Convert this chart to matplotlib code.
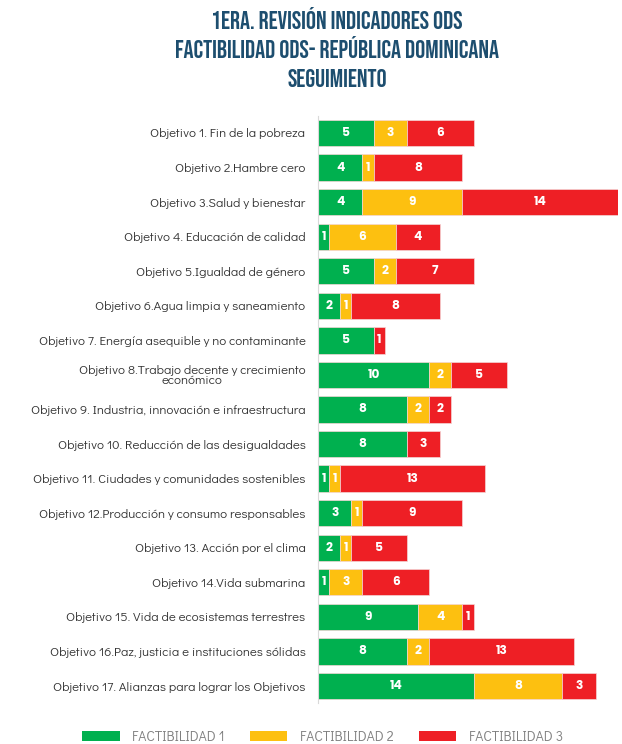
import matplotlib
matplotlib.use("Agg")
import matplotlib.pyplot as plt
from matplotlib.patches import Patch
from matplotlib import font_manager
import numpy as np

objetivos = [
    "Objetivo 1. Fin de la pobreza",
    "Objetivo 2.Hambre cero",
    "Objetivo 3.Salud y bienestar",
    "Objetivo 4. Educación de calidad",
    "Objetivo 5.Igualdad de género",
    "Objetivo 6.Agua limpia y saneamiento",
    "Objetivo 7. Energía asequible y no contaminante",
    "Objetivo 8.Trabajo decente y crecimiento\neconómico",
    "Objetivo 9. Industria, innovación e infraestructura",
    "Objetivo 10. Reducción de las desigualdades",
    "Objetivo 11. Ciudades y comunidades sostenibles",
    "Objetivo 12.Producción y consumo responsables",
    "Objetivo 13. Acción por el clima",
    "Objetivo 14.Vida submarina",
    "Objetivo 15. Vida de ecosistemas terrestres",
    "Objetivo 16.Paz, justicia e instituciones sólidas",
    "Objetivo 17. Alianzas para lograr los Objetivos",
]
factibilidad_1 = [5, 4, 4, 1, 5, 2, 5, 10, 8, 8, 1, 3, 2, 1, 9, 8, 14]
factibilidad_2 = [3, 1, 9, 6, 2, 1, 0, 2, 2, 0, 1, 1, 1, 3, 4, 2, 8]
factibilidad_3 = [6, 8, 14, 4, 7, 8, 1, 5, 2, 3, 13, 9, 5, 6, 1, 13, 3]
series_names = ["FACTIBILIDAD 1", "FACTIBILIDAD 2", "FACTIBILIDAD 3"]
colors = ["#00b04f", "#fdc010", "#ee1f25"]

title_lines = [
    "1ERA. REVISIÓN INDICADORES ODS",
    "FACTIBILIDAD ODS- REPÚBLICA DOMINICANA",
    "SEGUIMIENTO",
]

installed = {f.name for f in font_manager.fontManager.ttflist}


def pick(*candidates):
    for c in candidates:
        if c in installed:
            return c
    return "DejaVu Sans"


title_font = pick("Bebas Neue", "Oswald", "Barlow Condensed")
label_font = pick("Didact Gothic", "Questrial", "Lato")
value_font = pick("Poppins", "Montserrat", "DejaVu Sans")

fig = plt.figure(figsize=(6.22, 7.44), dpi=100)
ax = fig.add_axes([318 / 622, 1 - 703.3 / 744, 300 / 622, 587.6 / 744])

y = np.arange(len(objetivos))
left = np.zeros(len(objetivos))
for vals, col in zip([factibilidad_1, factibilidad_2, factibilidad_3], colors):
    vals = np.array(vals, dtype=float)
    bars = ax.barh(y, vals, left=left, height=0.76, color=col,
                   edgecolor="#f4d6d6", linewidth=0.5)
    for b, v in zip(bars, vals):
        if v > 0:
            ax.text(b.get_x() + b.get_width() / 2, b.get_y() + b.get_height() / 2,
                    f"{int(v)}", ha="center", va="center", color="white",
                    fontsize=8.8, fontweight="bold", family=value_font)
    left += vals

ax.set_xlim(0, 27)
ax.set_ylim(len(objetivos) - 0.5, -0.5)
ax.set_yticks(y)
ax.set_yticklabels(objetivos, fontsize=9.4, color="#333333", family=label_font,
                   multialignment="center", linespacing=0.95)
ax.tick_params(axis="y", length=0, pad=9)
ax.set_xticks([])
for s in ["top", "right", "bottom"]:
    ax.spines[s].set_visible(False)
ax.spines["left"].set_color("#d9d9d9")
ax.spines["left"].set_linewidth(0.8)

# three-line heading, one baseline per line
for line, base_px in zip(title_lines, [29, 58, 87]):
    fig.text(337 / 622, 1 - base_px / 744, line, ha="center", va="baseline",
             fontsize=18, color="#1d4e6f", family=title_font)

handles = [Patch(facecolor=c, edgecolor="none") for c in colors]
fig.legend(handles, series_names, loc="center",
           bbox_to_anchor=(322.5 / 622, 1 - 737 / 744),
           ncol=3, frameon=False, handlelength=2.7, handleheight=0.65,
           columnspacing=1.8, handletextpad=0.9,
           prop={"family": label_font, "size": 10})
for t in fig.legends[0].get_texts():
    t.set_color("#7f7f7f")

fig.savefig("out.png", dpi=100, facecolor="white")
